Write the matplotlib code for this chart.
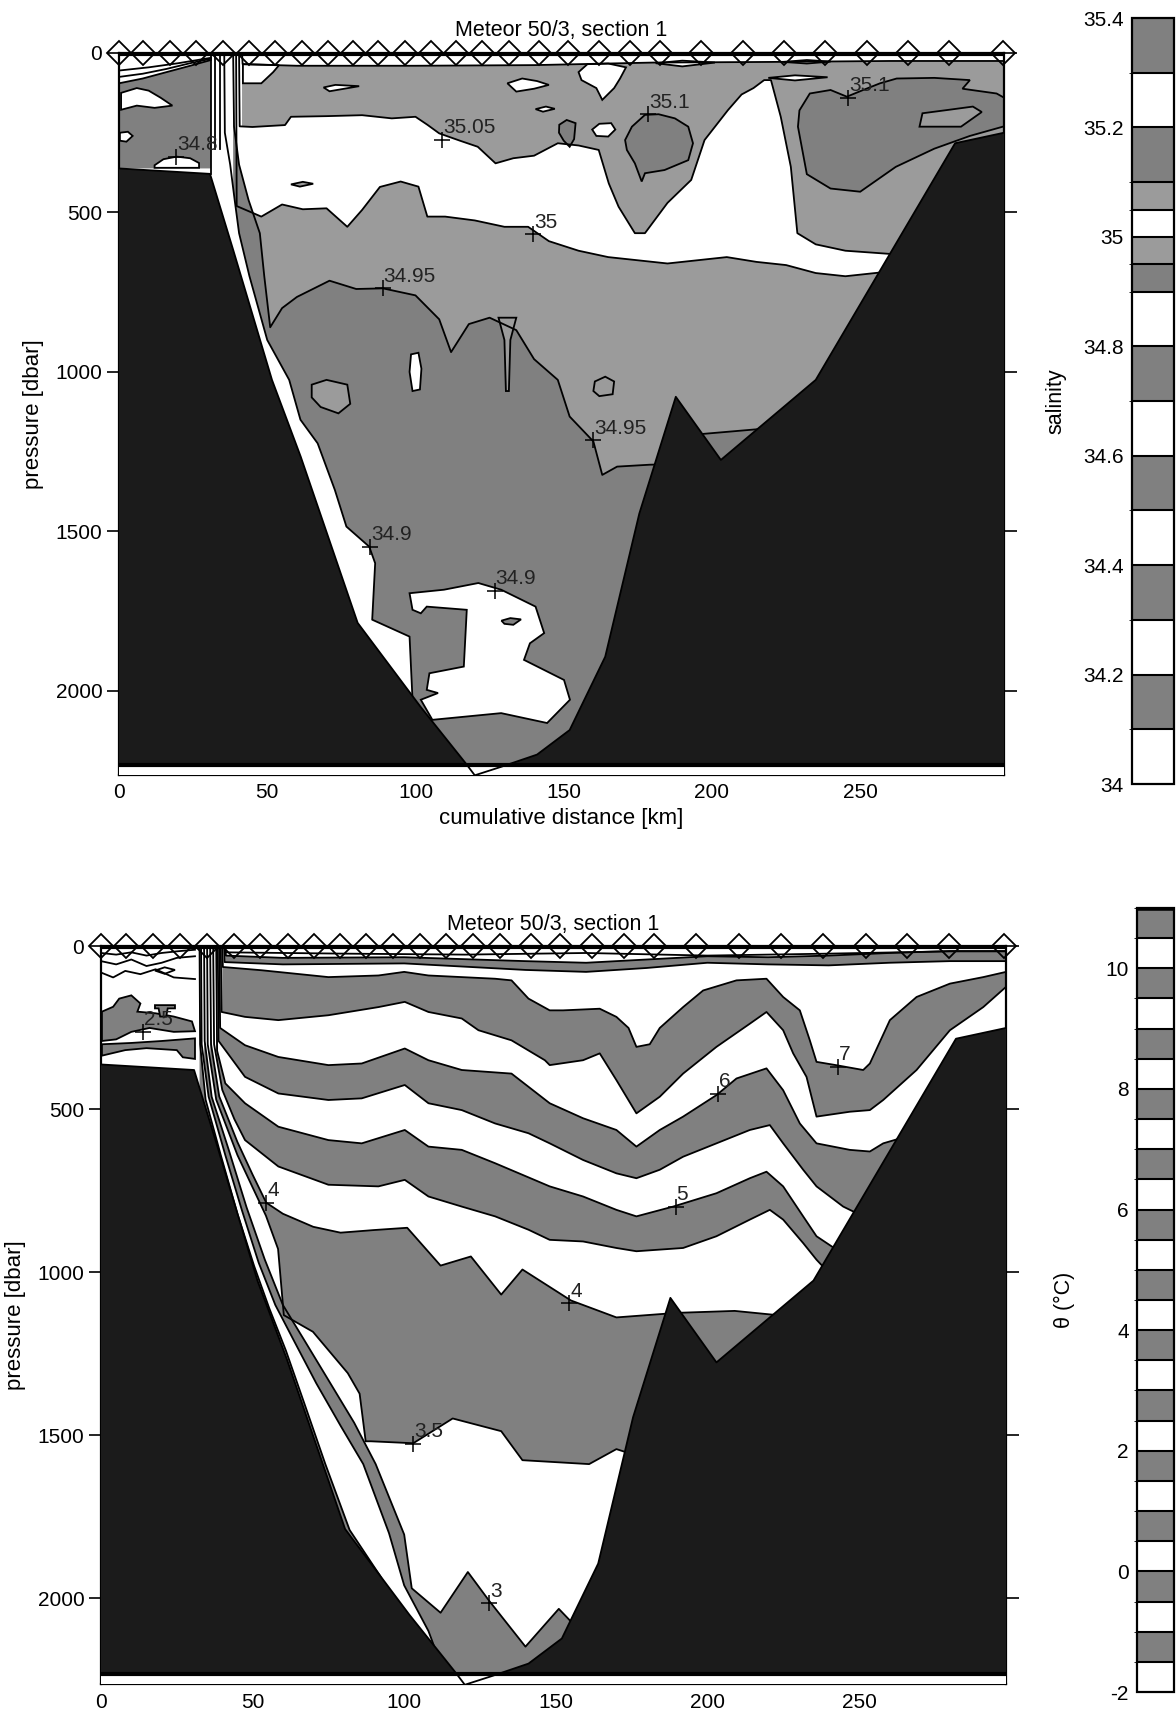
import matplotlib
matplotlib.use("Agg")
import matplotlib.pyplot as plt
from matplotlib.colors import ListedColormap, BoundaryNorm
from matplotlib.cm import ScalarMappable

plt.rcParams['font.family'] = ['Liberation Sans', 'DejaVu Sans']

WHITE = 'white'
DARK = '#808080'
LIGHT = '#9b9b9b'
ROCK = '#1b1b1b'
LW = 1.3
FLOOR = 2600
BASE = 2233
PMAX = 2264
XMAX = 298.5

# ---------------- common data ----------------
station_km = [0, 8.1, 17.2, 25.9, 35.0, 43.8, 52.5, 61.6, 70.4, 78.8, 87.5, 96.3,
              105.1, 113.8, 122.6, 131.6, 141.8, 151.5, 162, 172.4, 182.5, 196.3,
              210.4, 224.2, 238, 252.2, 266, 279.8, 298]

topo_km = [0, 30.7, 38.5, 51.6, 61.3, 80.5, 101.7, 117, 120, 129, 141, 152, 164,
           175.5, 187.8, 203, 235, 282, 298.5]
topo_p = [362, 379, 617, 1025, 1266, 1787, 2050, 2228, 2265, 2238, 2200, 2123, 1893,
          1444, 1078, 1276, 1025, 283, 250]

# ---------------- salinity boundaries (km, dbar) ----------------
s_top_km = [41.5, 41.7, 60, 100, 140, 180, 220, 260, 298.5]
s_top_p = [0, 35, 40, 40, 38, 30, 28, 25, 25]

s3505_km = [40.5, 40.7, 45, 56, 58, 70, 82, 92, 100, 104, 108, 115, 121, 127, 133, 140,
            148, 155, 161.8, 165.2, 168.5, 174, 177.4, 185, 193, 197.5, 205.4, 210, 214,
            217.6, 219.9, 223.2, 226.6, 228.8, 235, 245, 260, 275, 298.5]
s3505_p = [0, 230, 232, 226, 200, 198, 195, 205, 200, 225, 252, 275, 294, 346, 330, 322,
           283, 290, 304, 409, 482, 565, 565, 470, 398, 273, 179, 130, 110, 85, 85, 200,
           357, 565, 600, 620, 630, 640, 650]

s3500_km = [39.5, 39.7, 48, 55, 62, 70, 77, 82, 88, 95, 101, 104, 110, 120, 130, 138, 145,
            155, 165, 175, 185, 195, 205, 215, 225, 235, 245, 255, 265, 298.5]
s3500_p = [0, 480, 513, 475, 490, 487, 545, 492, 420, 403, 419, 513, 513, 525, 545, 545,
           590, 620, 640, 650, 660, 650, 640, 655, 665, 690, 700, 690, 680, 670]

s3495_km = [38.5, 38.8, 40.5, 43.7, 47.5, 49, 51, 55, 60, 71, 80, 89, 100, 108, 112, 118,
            125, 134, 140, 148, 152, 160, 163, 168, 179, 184, 190, 200, 215, 230, 298.5]
s3495_p = [0, 230, 350, 461, 565, 700, 860, 800, 765, 714, 740, 738, 760, 835, 938, 850,
           830, 869, 960, 1025, 1140, 1218, 1323, 1297, 1291, 1290, 1200, 1192, 1180, 1150,
           1150]

s3490_km = [35.5, 35.7, 37.5, 39, 40.5, 44, 50, 57.4, 61.2, 67, 72.8, 76.7, 84.4, 86.4,
            85.4, 98, 99, 101.8, 108, 115]
s3490_p = [0, 250, 350, 460, 565, 700, 900, 1025, 1150, 1224, 1370, 1485, 1548, 1600,
           1777, 1830, 2028, 2070, 2150, 2240]

# blobs: (km list, dbar list, colour)
s_blobs = [
    ([170.7, 173, 177.4, 182, 187.5, 192, 193.6, 192, 184, 177.4, 176.3, 174, 171.3],
     [273, 231, 194, 192, 205, 231, 283, 336, 367, 377, 403, 346, 304], DARK),
    ([229, 229.5, 233, 240, 245.5, 251, 256.7, 262.3, 275, 287, 284.5, 296, 298.5, 298.5,
      287, 275, 262, 250, 240, 232],
     [231, 180, 127, 116, 137, 116, 95, 80, 78, 85, 112, 127, 140, 230, 260, 300, 357,
      435, 425, 380], DARK),
    ([271, 280, 288, 291, 284, 270], [189, 178, 168, 185, 231, 231], LIGHT),
    ([148.5, 151, 154, 153.5, 152, 150, 148.4], [225, 210, 220, 270, 294, 275, 250], DARK),
    ([159.6, 162, 166, 167.4, 165, 161], [240, 222, 220, 240, 262, 260], WHITE),
    ([41.8, 54, 52, 48, 41.8], [35, 38, 60, 95, 95], WHITE),
    ([69, 73, 81, 76, 71], [108, 100, 104, 112, 120], WHITE),
    ([131, 136, 141, 145, 140, 134], [95, 80, 88, 100, 112, 121], WHITE),
    ([140.5, 144, 147, 143], [176, 168, 175, 184], WHITE),
    ([155, 158, 165, 171, 169, 167, 163, 161, 156], [60, 35, 33, 45, 80, 110, 147, 110, 85], WHITE),
    ([181, 190, 201, 190], [32, 24, 30, 42], WHITE),
    ([219, 228, 239, 228], [78, 70, 76, 86], WHITE),
    ([224, 232, 240, 232], [28, 22, 27, 33], WHITE),
    ([58, 62, 65.5, 61], [412, 404, 410, 419], LIGHT),
    ([98, 109.6, 121.2, 128.9, 140.5, 143.4, 138.6, 136.6, 150.1, 152.1, 144.4, 128.9, 105.7,
      101.8, 107.6, 103.8, 104.7, 116.3, 117.3, 103.8, 101.8, 99],
     [1694, 1683, 1662, 1683, 1736, 1819, 1851, 1903, 1966, 2028, 2101, 2070, 2091, 2028,
      2007, 1997, 1945, 1924, 1746, 1736, 1757, 1746], WHITE),
    ([129, 132, 135.6, 133, 130], [1780, 1772, 1776, 1793, 1790], DARK),
    ([65, 70, 77, 78, 74, 68, 65], [1040, 1025, 1040, 1100, 1130, 1110, 1080], LIGHT),
    ([98.5, 101, 102, 101.5, 99, 98], [945, 940, 990, 1055, 1060, 1000], WHITE),
    ([128, 134, 132, 131.5, 130.5, 130], [830, 830, 900, 1060, 1060, 900], LIGHT),
    ([160.5, 164, 167, 166.5, 162, 160], [1030, 1015, 1030, 1070, 1076, 1060], LIGHT),
]

# shelf (west of the front)
s_shelf_km = [0, 8, 16, 24, 31, 31, 0]
s_shelf_p = [95, 80, 60, 40, 22, 362, 362]
s_shelf_blobs = [
    ([0.7, 6, 10, 14, 18, 12, 6, 0.7], [125, 110, 118, 140, 165, 172, 165, 178]),
    ([0.3, 3, 4.6, 2.5, 0.3], [250, 247, 260, 278, 275]),
    ([12, 15, 19.5, 24, 27, 27, 12], [352, 333, 325, 330, 345, 360, 360]),
]
s_shelf_lines = [([0, 10, 20, 31], [55, 45, 32, 15]),
                 ([0, 8, 16, 24, 31], [75, 65, 50, 32, 18])]
s_front_km = [32.5, 34.0]

s_lab_text = ['35.05', '35.1', '35.1', '35', '34.95', '34.95', '34.9', '34.9', '34.8']
s_lab_km = [108.9, 178.5, 246, 139.6, 88.9, 160, 84.8, 126.7, 19.3]
s_lab_p = [272, 192, 140, 569, 738, 1214, 1548, 1686, 325]

# ---------------- temperature isotherms (km, dbar) ----------------
t8_km = [41.0, 41.2, 60, 100, 140, 160, 180, 200, 220, 240, 260, 280, 298.5]
t8_p = [0, 28, 35, 33, 45, 50, 40, 30, 33, 28, 20, 14, 14]
t75_km = [40.6, 40.8, 60, 100, 140, 160, 180, 200, 220, 240, 260, 280, 298.5]
t75_p = [0, 48, 55, 52, 72, 78, 66, 50, 55, 58, 50, 45, 45]
t7_km = [40.0, 40.2, 53, 75, 91.5, 100, 108, 119, 130, 135.4, 141, 148, 152.4, 164.5, 170,
         174, 176.6, 181, 184.3, 192, 198.6, 209.6, 219.5, 225, 230.5, 233.8, 236, 242.4,
         251.4, 253.6, 260.2, 269, 280, 291, 298.5]
t7_p = [0, 63, 73, 94, 89, 78, 89, 94, 99, 104, 160, 196, 196, 191, 216, 250, 308, 300, 250,
        186, 135, 104, 99, 155, 196, 288, 354, 364, 379, 359, 226, 155, 114, 94, 78]
t65_km = [39.5, 39.8, 47.5, 58.5, 75, 91.5, 100.2, 108, 119, 124.5, 135.4, 146.4, 148, 159,
          164.5, 170, 176.6, 184.3, 192, 203, 214, 219.5, 225, 228.3, 232.7, 236, 247, 253.6,
          258, 269, 280, 291, 298.5]
t65_p = [0, 201, 216, 226, 211, 186, 170, 201, 221, 257, 288, 349, 364, 349, 328, 410, 512,
         461, 390, 308, 237, 201, 257, 328, 400, 522, 507, 502, 471, 379, 257, 186, 124]
t6_km = [39.0, 39.3, 47.5, 58.5, 75, 86, 100.2, 108, 119, 135.4, 148, 159, 170, 176.6,
         184.3, 192, 203, 209.6, 219.5, 225, 230.5, 236, 247, 253.6, 258, 265.7, 280]
t6_p = [0, 250, 303, 339, 364, 359, 313, 349, 379, 390, 481, 527, 563, 614, 563, 522, 456,
        405, 374, 441, 543, 604, 624, 629, 604, 583, 600]
t55_km = [38.5, 38.8, 47.5, 58.5, 75, 86, 100.2, 108, 119, 130, 141, 148, 159, 170, 176.6,
          184.3, 192, 203, 214, 220.6, 225, 231.6, 236, 244.8, 249.2, 258]
t55_p = [0, 290, 400, 451, 471, 466, 425, 481, 502, 543, 573, 604, 655, 696, 711, 685, 645,
         604, 563, 548, 604, 685, 736, 798, 818, 850]
t5_km = [38.0, 38.3, 41, 47.5, 58.5, 75, 86, 100.2, 108, 119, 130, 148, 159, 170, 176.6,
         188.7, 203, 214, 219.5, 225, 231.6, 236, 242.6, 250]
t5_p = [0, 320, 420, 481, 553, 594, 604, 563, 614, 624, 665, 736, 767, 808, 828, 798, 757,
        711, 691, 736, 828, 889, 930, 1000]
t45_km = [37.0, 37.3, 40, 44, 47.5, 58.5, 75, 91.5, 100.2, 108, 119, 130, 141, 148, 159, 170,
          176.6, 192, 203, 214, 220.6, 225, 231.6, 236, 245]
t45_p = [0, 300, 440, 530, 594, 675, 731, 736, 716, 767, 798, 828, 869, 900, 905, 925, 935,
         925, 889, 838, 808, 838, 910, 961, 1050]
t4_km = [36.0, 36.3, 39, 45, 50, 54.5, 60, 70, 79, 90, 101, 112, 122, 132, 139, 155, 170, 190,
         209, 222, 230]
t4_p = [0, 300, 460, 600, 700, 786, 820, 860, 878, 870, 863, 979, 951, 1068, 991, 1086, 1138,
        1124, 1118, 1130, 1170]
t35_km = [35.0, 35.2, 38, 45, 54.4, 58.4, 60.3, 69.9, 81.4, 85.3, 87.3, 89, 103, 116, 132,
          139, 161, 170, 176]
t35_p = [0, 300, 470, 640, 826, 928, 1131, 1182, 1309, 1372, 1518, 1518, 1524, 1448, 1487,
         1576, 1588, 1542, 1560]
t3_km = [34.0, 34.2, 36.5, 42, 48, 54, 60, 67, 75, 83.5, 90.6, 100, 102.5, 112, 121, 128, 140,
         151, 158, 160]
t3_p = [0, 290, 461, 620, 800, 960, 1100, 1207, 1330, 1461, 1588, 1804, 1969, 2044, 1919,
        2007, 2148, 2032, 2100, 2280]
t25_km = [33.0, 33.2, 35.5, 41, 46.5, 52, 57.5, 63.5, 71, 79, 86.5, 95, 100, 108, 112]
t25_p = [0, 300, 461, 640, 810, 970, 1100, 1207, 1340, 1470, 1588, 1800, 1960, 2100, 2200]
t2_km = [32.5, 32.7, 34.5, 39.5, 45, 50.5, 55.5, 61, 67, 74, 82, 92, 100]
t2_p = [0, 300, 470, 640, 820, 980, 1110, 1240, 1400, 1588, 1790, 1930, 2060]

t_surf_km = [41, 80, 120, 160, 200, 240, 280, 298.5]
t_surf_p = [18, 22, 25, 20, 28, 22, 15, 15]

t_shelf_gray = [
    ([0.3, 4, 6, 10, 13, 12, 18, 24, 30, 31, 24, 16, 10, 5, 0.3],
     [200, 185, 160, 150, 175, 200, 205, 215, 230, 260, 262, 250, 262, 285, 290]),
    ([17.8, 24.4, 24.4, 22, 21.5, 19.5, 19, 17.8],
     [180, 180, 190, 190, 215, 215, 190, 190]),
    ([0.3, 10, 20, 31, 31, 27, 25, 15, 8, 0.3],
     [300, 296, 290, 282, 345, 340, 318, 312, 318, 335]),
]
t_shelf_lens = ([17.8, 21, 24.4, 21], [74, 64, 72, 84])
t_shelf_lines = [([0, 5, 10, 15, 20, 25, 31], [20, 25, 18, 28, 20, 15, 10]),
                 ([0, 5, 10, 15, 20, 25, 31], [45, 55, 40, 60, 50, 35, 30]),
                 ([0, 4, 8, 13, 18, 24, 31], [80, 95, 75, 85, 70, 95, 100])]

t_lab_text = ['7', '6', '5', '4', '3.5', '3', '4', '2.5']
t_lab_km = [243, 203.6, 189.5, 154.5, 103, 128, 54.5, 13.8]
t_lab_p = [370, 452, 799, 1095, 1525, 2015, 786, 262]

# colour bars
sal_levels = [34.0, 34.1, 34.2, 34.3, 34.4, 34.5, 34.6, 34.7, 34.8, 34.9, 34.95, 35.0,
              35.05, 35.1, 35.2, 35.3, 35.4]
sal_colors = [WHITE, DARK, WHITE, DARK, WHITE, DARK, WHITE, DARK, WHITE, DARK, LIGHT,
              WHITE, LIGHT, DARK, WHITE, DARK]
sal_ticks = [34, 34.2, 34.4, 34.6, 34.8, 35, 35.2, 35.4]
sal_ticklabels = ['34', '34.2', '34.4', '34.6', '34.8', '35', '35.2', '35.4']
theta_levels = [-2 + 0.5 * i for i in range(27)]
theta_colors = [DARK if i % 2 else WHITE for i in range(26)]
theta_ticks = [-2, 0, 2, 4, 6, 8, 10]


def below(ax, km, p, color):
    ax.fill(list(km) + [km[-1], km[0]], list(p) + [FLOOR, FLOOR], color=color, lw=0, zorder=1)


def line(ax, km, p):
    ax.plot(km, p, color='k', lw=LW, zorder=3, solid_joinstyle='round')


def frame(ax, xlabel):
    ax.set_xlim(0, XMAX)
    ax.set_ylim(PMAX, 0)
    ax.set_xticks([0, 50, 100, 150, 200, 250])
    ax.set_yticks([0, 500, 1000, 1500, 2000])
    ax.tick_params(axis='x', direction='in', length=7, width=1.2, labelsize=15, pad=6)
    ax.tick_params(axis='y', direction='out', length=9, width=1.2, right=True,
                   labelsize=15, pad=3)
    for s in ax.spines.values():
        s.set_linewidth(1.6)
    ax.set_ylabel('pressure [dbar]', fontsize=16, labelpad=8)
    if xlabel:
        ax.set_xlabel(xlabel, fontsize=16, labelpad=4)
    ax.set_title('Meteor 50/3, section 1', fontsize=15.5, pad=12)
    # bottom
    ax.axhspan(BASE, PMAX + 50, color=WHITE, zorder=4)
    below_base = [p <= BASE for p in topo_p]
    ax.fill_between(topo_km, topo_p, BASE, where=below_base, interpolate=True,
                    color=ROCK, lw=0, zorder=5)
    ax.plot(topo_km, topo_p, color='k', lw=LW, zorder=6)
    ax.axhline(BASE, color='k', lw=3, zorder=6)
    ax.axhline(2, color='k', lw=3, zorder=6)
    ax.plot(station_km, [0] * len(station_km), linestyle='none', marker='D', ms=12.5,
            mfc='none', mec='k', mew=1.3, clip_on=False, zorder=9)


def labels(ax, txt, km, p):
    for t, x, y in zip(txt, km, p):
        ax.plot(x, y, marker='+', ms=11, mew=1.1, color='k', zorder=7)
        ax.text(x + 0.3, y - 8, t, fontsize=15, ha='left', va='bottom', zorder=7,
                color='#222222')


fig = plt.figure(figsize=(11.76, 17.25), dpi=100)

# ---------------- salinity panel ----------------
ax1 = fig.add_axes([119 / 1176, 1 - 775 / 1725, 885 / 1176, 722 / 1725])
below(ax1, s_top_km, s_top_p, LIGHT)
below(ax1, s3505_km, s3505_p, WHITE)
below(ax1, s3500_km, s3500_p, LIGHT)
below(ax1, s3495_km, s3495_p, DARK)
below(ax1, s3490_km, s3490_p, WHITE)
ax1.fill(s_shelf_km, s_shelf_p, color=DARK, lw=0, zorder=1)
for bx, bp in s_shelf_blobs:
    ax1.fill(bx, bp, facecolor=WHITE, edgecolor='k', lw=LW, zorder=2)
for lx, lp in s_shelf_lines:
    line(ax1, lx, lp)
line(ax1, s_shelf_km[:5], s_shelf_p[:5])
for bx, bp, c in s_blobs:
    ax1.fill(bx, bp, facecolor=c, edgecolor='k', lw=LW, zorder=2)
for km, p in [(s_top_km, s_top_p), (s3505_km, s3505_p), (s3500_km, s3500_p),
              (s3495_km, s3495_p), (s3490_km, s3490_p)]:
    line(ax1, km, p)
line(ax1, [31, 31], [0, 379])
for xf in s_front_km:
    line(ax1, [xf, xf], [0, 300])
frame(ax1, 'cumulative distance [km]')
labels(ax1, s_lab_text, s_lab_km, s_lab_p)

# ---------------- temperature panel ----------------
ax2 = fig.add_axes([101 / 1176, 0.0235, 905 / 1176, 738 / 1725])
isos = [(t8_km, t8_p), (t75_km, t75_p), (t7_km, t7_p), (t65_km, t65_p), (t6_km, t6_p),
        (t55_km, t55_p), (t5_km, t5_p), (t45_km, t45_p), (t4_km, t4_p), (t35_km, t35_p),
        (t3_km, t3_p), (t25_km, t25_p), (t2_km, t2_p)]
for i, (km, p) in enumerate(isos):
    below(ax2, km, p, DARK if i % 2 == 0 else WHITE)
for bx, bp in t_shelf_gray:
    ax2.fill(bx, bp, facecolor=DARK, edgecolor='k', lw=LW, zorder=2)
ax2.fill(*t_shelf_lens, facecolor=WHITE, edgecolor='k', lw=LW, zorder=2)
for lx, lp in t_shelf_lines:
    line(ax2, lx, lp)
for km, p in isos:
    line(ax2, km, p)
line(ax2, t_surf_km, t_surf_p)
frame(ax2, None)
labels(ax2, t_lab_text, t_lab_km, t_lab_p)

# ---------------- colour bars ----------------
def bar(rect, levels, colors, ticks, ticklabels, label, pad):
    cax = fig.add_axes(rect)
    cmap = ListedColormap(colors)
    norm = BoundaryNorm(levels, len(colors))
    cb = fig.colorbar(ScalarMappable(norm=norm, cmap=cmap), cax=cax, boundaries=levels,
                      spacing='proportional', drawedges=True)
    cb.set_ticks(ticks)
    cb.set_ticklabels(ticklabels)
    cax.yaxis.set_ticks_position('left')
    cax.yaxis.set_label_position('left')
    cax.tick_params(length=0, pad=6, labelsize=15)
    cb.outline.set_linewidth(1.6)
    cb.dividers.set_linewidth(1.5)
    cb.set_label(label, fontsize=15.5, labelpad=pad)
    return cax

bar([1132 / 1176, 1 - 784 / 1725, 42 / 1176, 766 / 1725], sal_levels, sal_colors,
    sal_ticks, sal_ticklabels, 'salinity', 12)
cax2 = bar([1137 / 1176, 1 - 1692 / 1725, 37 / 1176, 784 / 1725], theta_levels, theta_colors,
           theta_ticks, [str(t) for t in theta_ticks], 'θ (°C)', 22)
cax2.axhline(11, color='k', lw=4)

fig.savefig('out.png', dpi=100)
